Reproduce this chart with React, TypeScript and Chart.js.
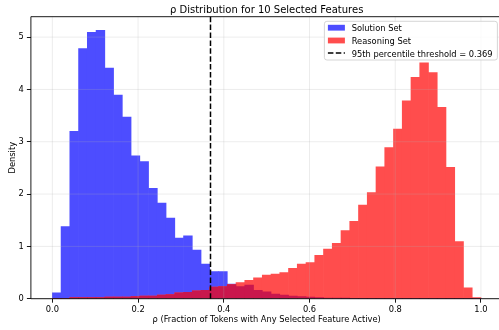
import React, { useEffect, useRef } from "react";
import { Chart, registerables } from "chart.js";

Chart.register(...registerables);

// Histogram bins: 49 bins of width 1/49 between 0 and 1 (bin centres)
const BIN_CENTERS = [
  0.010204, 0.030612, 0.05102, 0.071429, 0.091837, 0.112245, 0.132653, 0.153061, 0.173469, 0.193878,
  0.214286, 0.234694, 0.255102, 0.27551, 0.295918, 0.316327, 0.336735, 0.357143, 0.377551, 0.397959,
  0.418367, 0.438776, 0.459184, 0.479592, 0.5, 0.520408, 0.540816, 0.561224, 0.581633, 0.602041,
  0.622449, 0.642857, 0.663265, 0.683673, 0.704082, 0.72449, 0.744898, 0.765306, 0.785714, 0.806122,
  0.826531, 0.846939, 0.867347, 0.887755, 0.908163, 0.928571, 0.94898, 0.969388, 0.989796,
];

const SOLUTION_DENSITY = [
  0.11, 1.38, 3.2, 4.78, 5.09, 5.13, 4.41, 3.89, 3.47, 2.73,
  2.62, 2.11, 1.83, 1.54, 1.16, 1.2, 0.93, 0.66, 0.52, 0.52,
  0.28, 0.23, 0.26, 0.16, 0.13, 0.09, 0.07, 0.05, 0.04, 0.03,
  0.02, 0.01, 0.01, 0.005, 0, 0, 0, 0, 0, 0,
  0, 0, 0, 0, 0, 0, 0, 0, 0,
];

const REASONING_DENSITY = [
  0, 0, 0.02, 0.02, 0.02, 0.02, 0.03, 0.03, 0.03, 0.04,
  0.05, 0.05, 0.07, 0.08, 0.11, 0.12, 0.15, 0.16, 0.22, 0.23,
  0.27, 0.31, 0.35, 0.4, 0.45, 0.47, 0.5, 0.58, 0.66, 0.69,
  0.83, 0.95, 1.06, 1.3, 1.48, 1.79, 2.03, 2.52, 2.89, 3.24,
  3.78, 4.23, 4.51, 4.32, 3.66, 2.51, 1.09, 0.21, 0.02,
];

const THRESHOLD = 0.369;
const X_TICKS = [0, 0.2, 0.4, 0.6, 0.8, 1.0];
const Y_TICKS = [0, 1, 2, 3, 4, 5];
const TITLE = "ρ Distribution for 10 Selected Features";
const X_LABEL = "ρ (Fraction of Tokens with Any Selected Feature Active)";
const Y_LABEL = "Density";
const SERIES_NAMES = ["Solution Set", "Reasoning Set"];
const THRESHOLD_LABEL = "95th percentile threshold = " + THRESHOLD.toFixed(3);

// blue / red at alpha 0.7 over white, and red-over-blue where they overlap
const BLUE = "rgb(77,77,255)";
const RED = "rgb(255,77,77)";
const OVERLAP = "rgb(201,23,77)";
const FONT = '"DejaVu Sans", Verdana, sans-serif';
const SMALL = 8.3;

const overlayPlugin = {
  id: "mplOverlay",
  afterDatasetsDraw(chart: any) {
    const { ctx, chartArea: a, scales } = chart;
    const x = scales.x;
    const y = scales.y;
    ctx.save();

    // grid lines (drawn above the bars like matplotlib)
    ctx.strokeStyle = "rgba(176,176,176,0.3)";
    ctx.lineWidth = 0.8;
    for (const v of X_TICKS) {
      const px = x.getPixelForValue(v);
      ctx.beginPath();
      ctx.moveTo(px, a.top);
      ctx.lineTo(px, a.bottom);
      ctx.stroke();
    }
    for (const v of Y_TICKS) {
      const py = y.getPixelForValue(v);
      ctx.beginPath();
      ctx.moveTo(a.left, py);
      ctx.lineTo(a.right, py);
      ctx.stroke();
    }

    // threshold line
    const tx = x.getPixelForValue(THRESHOLD);
    ctx.strokeStyle = "#000";
    ctx.lineWidth = 1.5;
    ctx.setLineDash([5.5, 2.4]);
    ctx.beginPath();
    ctx.moveTo(tx, a.bottom);
    ctx.lineTo(tx, a.top);
    ctx.stroke();
    ctx.setLineDash([]);

    // spines
    ctx.strokeStyle = "#000";
    ctx.lineWidth = 0.9;
    ctx.beginPath();
    ctx.moveTo(a.left, a.top);
    ctx.lineTo(a.left, a.bottom);
    ctx.lineTo(a.right, a.bottom);
    ctx.moveTo(a.left, a.top);
    ctx.lineTo(a.right, a.top);
    ctx.lineTo(a.right, a.bottom);
    ctx.stroke();

    // title
    ctx.fillStyle = "#000";
    ctx.font = "10px " + FONT;
    ctx.textAlign = "center";
    ctx.textBaseline = "alphabetic";
    ctx.fillText(TITLE, (a.left + a.right) / 2, 12.5);

    // legend
    const lw = 173;
    const lh = 38.7;
    const lr = a.right - 5;
    const lt = a.top + 4.6;
    const ll = lr - lw;
    ctx.beginPath();
    if ((ctx as any).roundRect) {
      (ctx as any).roundRect(ll, lt, lw, lh, 2.5);
    } else {
      ctx.rect(ll, lt, lw, lh);
    }
    ctx.fillStyle = "rgba(255,255,255,0.8)";
    ctx.fill();
    ctx.strokeStyle = "#cccccc";
    ctx.lineWidth = 0.8;
    ctx.stroke();

    const hx = ll + 3.5;
    const hw = 17;
    const textX = ll + 27.3;
    const baselines = [lt + 9.8, lt + 22.6, lt + 35.4];
    ctx.fillStyle = BLUE;
    ctx.fillRect(hx, baselines[0] - 6.3, hw, 5.8);
    ctx.fillStyle = RED;
    ctx.fillRect(hx, baselines[1] - 6.3, hw, 5.8);
    ctx.strokeStyle = "#000";
    ctx.lineWidth = 1.5;
    ctx.setLineDash([5.5, 2.4]);
    ctx.beginPath();
    ctx.moveTo(hx, baselines[2] - 3.6);
    ctx.lineTo(hx + hw, baselines[2] - 3.6);
    ctx.stroke();
    ctx.setLineDash([]);

    ctx.fillStyle = "#000";
    ctx.font = SMALL + "px " + FONT;
    ctx.textAlign = "left";
    ctx.textBaseline = "alphabetic";
    ctx.fillText(SERIES_NAMES[0], textX, baselines[0]);
    ctx.fillText(SERIES_NAMES[1], textX, baselines[1]);
    ctx.fillText(THRESHOLD_LABEL, textX, baselines[2]);

    ctx.restore();
  },
};

function barSet(label: string, values: number[], color: string, order: number) {
  return {
    label,
    data: BIN_CENTERS.map((c, i) => ({ x: c, y: values[i] })),
    backgroundColor: color,
    borderWidth: 0,
    barPercentage: 1,
    categoryPercentage: 1,
    grouped: false,
    order,
  };
}

export default function App() {
  const ref = useRef<HTMLCanvasElement | null>(null);

  useEffect(() => {
    if (!ref.current) return;
    const tickFont = { family: FONT, size: SMALL, lineHeight: 1.2 };
    const overlapValues = SOLUTION_DENSITY.map((v, i) => Math.min(v, REASONING_DENSITY[i]));
    const chart = new Chart(ref.current, {
      type: "bar",
      data: {
        datasets: [
          barSet(SERIES_NAMES[0], SOLUTION_DENSITY, BLUE, 3),
          barSet(SERIES_NAMES[1], REASONING_DENSITY, RED, 2),
          barSet("overlap", overlapValues, OVERLAP, 1),
        ],
      } as any,
      options: {
        animation: false,
        responsive: false,
        events: [],
        layout: { padding: { top: 16.7, right: 0.6, left: 0, bottom: 0 } },
        plugins: {
          legend: { display: false },
          title: { display: false },
          tooltip: { enabled: false },
        },
        scales: {
          x: {
            type: "linear",
            min: -0.05,
            max: 1.05,
            offset: false,
            grid: {
              drawOnChartArea: false,
              offset: false,
              tickColor: "#000",
              tickWidth: 0.9,
              tickLength: 4,
            },
            border: { display: false },
            afterBuildTicks: (s: any) => {
              s.ticks = X_TICKS.map((v) => ({ value: v }));
            },
            afterFit: (s: any) => {
              s.height = 31.3;
            },
            ticks: {
              autoSkip: false,
              maxRotation: 0,
              minRotation: 0,
              padding: 1.7,
              color: "#000",
              font: tickFont,
              callback: (v: any) => Number(v).toFixed(1),
            },
            title: {
              display: true,
              text: X_LABEL,
              color: "#000",
              font: tickFont,
              padding: { top: 0, bottom: 5 },
            },
          },
          y: {
            type: "linear",
            min: 0,
            max: 5.39,
            grid: {
              drawOnChartArea: false,
              tickColor: "#000",
              tickWidth: 0.9,
              tickLength: 4,
            },
            border: { display: false },
            afterBuildTicks: (s: any) => {
              s.ticks = Y_TICKS.map((v) => ({ value: v }));
            },
            afterFit: (s: any) => {
              s.width = 30.9;
            },
            ticks: {
              autoSkip: false,
              padding: 3.2,
              color: "#000",
              font: tickFont,
              callback: (v: any) => String(v),
            },
            title: {
              display: true,
              text: Y_LABEL,
              color: "#000",
              font: tickFont,
              padding: { top: 7.5, bottom: 7.5 },
            },
          },
        },
      } as any,
      plugins: [overlayPlugin],
    });
    return () => chart.destroy();
  }, []);

  return (
    <div
      style={{
        position: "fixed",
        left: 0,
        top: 0,
        width: 499,
        height: 330,
        overflow: "hidden",
        background: "#fff",
      }}
    >
      <canvas
        ref={ref}
        width={503}
        height={330}
        style={{ display: "block", width: 503, height: 330 }}
      />
    </div>
  );
}
